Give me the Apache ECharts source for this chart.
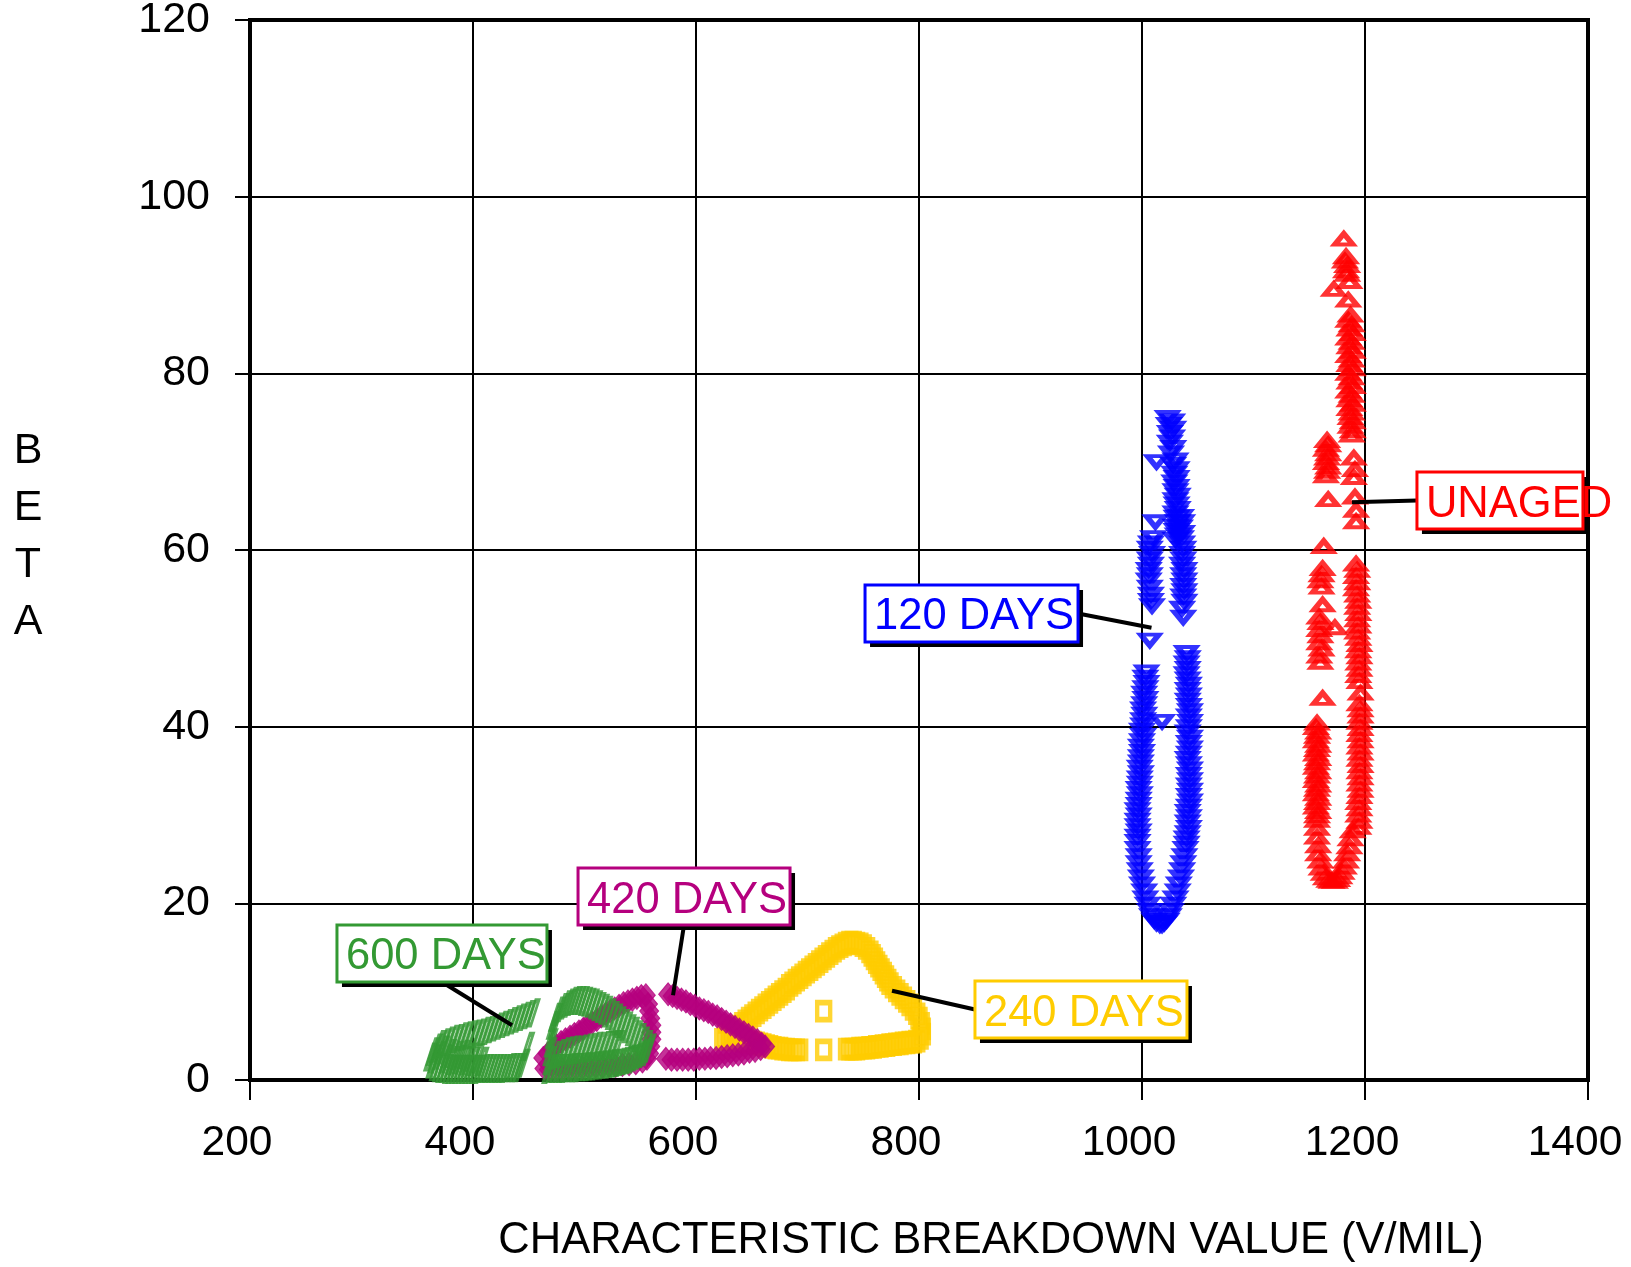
<!DOCTYPE html>
<html>
<head>
<meta charset="utf-8">
<script src="https://cdn.jsdelivr.net/npm/echarts@6/dist/echarts.min.js"></script>
<style>
  html, body { margin: 0; padding: 0; background: #fff; }
  #chart { width: 1631px; height: 1267px; }
</style>
</head>
<body>
<div id="chart"></div>
<script>
// Axis ticks
const xTicks = [200, 400, 600, 800, 1000, 1200, 1400];
const yTicks = [0, 20, 40, 60, 80, 100, 120];

// Weibull parameter sets: [characteristic breakdown value (V/mil), beta]
const unaged = [
  [1181, 95.2], [1183, 93.2], [1182, 92.7], [1184, 92.2], [1183, 91.6], [1184, 91.2], [1186, 90.4], [1172, 89.5],
  [1185, 88.3], [1187, 86.6],
  [1185, 86.0], [1188, 85.5], [1186, 85.0], [1189, 84.5], [1185, 84.0], [1188, 83.5], [1186, 83.0], [1189, 82.5],
  [1185, 82.0], [1188, 81.5], [1186, 81.0], [1189, 80.5], [1185, 80.0], [1188, 79.5], [1186, 79.0], [1189, 78.5],
  [1185, 78.0], [1188, 77.5], [1186, 77.0], [1189, 76.5], [1186, 76.0], [1188, 75.5], [1187, 75.0], [1189, 74.5],
  [1187, 74.0], [1189, 73.5], [1188, 73.0],
  [1166, 72.4], [1167, 71.9], [1165, 71.4], [1167, 70.9], [1166, 70.4], [1165, 69.9], [1167, 69.4], [1166, 68.9], [1165, 68.4],
  [1190, 70.4], [1191, 69.1], [1190, 68.2], [1191, 66.0], [1192, 64.5], [1192, 63.2], [1167, 65.7],
  [1163, 60.4], [1162, 57.9], [1161, 57.2], [1160, 56.5], [1161, 55.8], [1162, 53.8], [1159, 52.4], [1160, 51.8],
  [1159, 51.0], [1160, 50.3], [1159, 49.5], [1161, 48.8], [1159, 48.0], [1160, 47.3], [1162, 43.2],
  [1157, 40.4], [1156, 39.9], [1158, 39.4], [1157, 38.9], [1156, 38.4], [1158, 37.9], [1157, 37.4], [1156, 36.9],
  [1158, 36.4], [1157, 35.9], [1156, 35.4], [1158, 34.9], [1157, 34.4], [1156, 33.9], [1158, 33.4], [1157, 32.9],
  [1156, 32.4], [1158, 31.9], [1157, 31.4], [1156, 30.9], [1158, 30.4], [1157, 29.9], [1157, 29.4],
  [1157, 28.5], [1157, 27.5], [1158, 26.5], [1158, 25.6], [1160, 24.8], [1161, 24.0], [1163, 23.4], [1165, 22.9],
  [1168, 22.6], [1170, 22.5], [1173, 22.5], [1175, 22.7], [1177, 23.0], [1179, 23.5], [1181, 24.1], [1183, 24.8],
  [1184, 25.6], [1186, 26.4], [1187, 27.3], [1189, 28.2],
  [1192, 58.4], [1193, 57.7], [1192, 57.0], [1193, 56.3], [1192, 55.6], [1193, 54.9], [1194, 54.2], [1193, 53.5],
  [1194, 52.8], [1193, 52.1], [1194, 51.4], [1193, 50.7], [1194, 50.0], [1195, 49.3], [1194, 48.6], [1195, 47.9],
  [1194, 47.2], [1195, 46.5], [1194, 45.8], [1195, 45.1], [1196, 43.8], [1195, 42.6], [1196, 41.9], [1196, 41.2],
  [1195, 40.5], [1196, 39.8], [1195, 39.1], [1196, 38.4], [1195, 37.7], [1196, 37.0], [1195, 36.3], [1196, 35.6],
  [1195, 34.9], [1196, 34.2], [1195, 33.5], [1196, 32.8], [1195, 32.1], [1194, 31.4], [1195, 30.7], [1194, 30.0],
  [1195, 29.3], [1194, 28.6],
  [1173, 51.2]
];

const days120 = [
  [1023, 75.0], [1027, 74.6], [1024, 74.2], [1028, 73.8], [1025, 73.3], [1027, 72.8], [1025, 72.2], [1028, 71.6],
  [1026, 71.0], [1013, 70.0],
  [1030, 70.2], [1028, 69.7], [1031, 69.2], [1029, 68.7], [1031, 68.2], [1029, 67.7], [1031, 67.2], [1030, 66.7],
  [1032, 66.2], [1030, 65.7], [1031, 65.2], [1032, 64.7], [1030, 64.2], [1031, 63.7], [1032, 63.2], [1030, 62.7],
  [1031, 62.2], [1032, 61.7], [1030, 61.2],
  [1012, 63.2], [1010, 61.4], [1008, 60.8], [1007, 60.2], [1009, 59.6], [1007, 59.0], [1008, 58.4], [1006, 57.8],
  [1007, 57.2], [1006, 56.6], [1007, 55.8], [1008, 55.0], [1008, 54.3], [1009, 53.7],
  [1035, 63.8], [1036, 63.2], [1034, 62.6], [1036, 62.0], [1035, 61.4], [1036, 60.8], [1037, 60.2], [1036, 59.6],
  [1037, 59.0], [1036, 58.4], [1038, 57.8], [1037, 57.2], [1038, 56.6], [1037, 56.0], [1038, 55.4], [1037, 54.8],
  [1038, 54.2], [1036, 53.4], [1037, 52.4],
  [1007, 49.8],
  [1004, 46.2], [1003, 45.6], [1004, 45.0], [1003, 44.4], [1002, 43.8], [1003, 43.2], [1002, 42.6], [1001, 42.0],
  [1002, 41.4], [1001, 40.8], [1001, 40.2], [1000, 39.6], [1001, 39.0], [1000, 38.4], [999, 37.8], [1000, 37.2],
  [999, 36.6], [999, 36.0], [998, 35.4], [999, 34.8], [998, 34.2], [998, 33.6], [997, 33.0], [998, 32.4],
  [997, 31.8], [997, 31.2], [996, 30.6], [997, 30.0], [996, 29.4], [996, 28.8], [997, 28.2], [996, 27.6], [996, 27.0],
  [996, 26.2], [997, 25.4], [997, 24.6], [998, 23.8], [999, 23.0], [1000, 22.2], [1002, 21.4], [1003, 20.6],
  [1005, 19.9], [1007, 19.2], [1009, 18.6], [1011, 18.1], [1013, 17.8], [1016, 17.6], [1018, 17.6], [1020, 17.8],
  [1022, 18.1], [1024, 18.6], [1026, 19.2], [1028, 19.9], [1030, 20.6], [1032, 21.4], [1033, 22.2], [1035, 23.0],
  [1036, 23.8], [1037, 24.6], [1038, 25.4], [1039, 26.2],
  [1040, 48.4], [1041, 47.8], [1040, 47.2], [1041, 46.6], [1040, 46.0], [1041, 45.4], [1042, 44.8], [1041, 44.2],
  [1042, 43.6], [1041, 43.0], [1042, 42.4], [1043, 41.8], [1042, 41.2], [1043, 40.6], [1042, 40.0], [1041, 39.4],
  [1043, 38.8], [1042, 38.2], [1043, 37.6], [1042, 37.0], [1041, 36.4], [1042, 35.8], [1043, 35.2], [1042, 34.6],
  [1043, 34.0], [1042, 33.4], [1043, 32.8], [1042, 32.2], [1043, 31.6], [1042, 31.0], [1041, 30.4], [1042, 29.8],
  [1041, 29.2], [1042, 28.6], [1041, 28.0], [1040, 27.4], [1040, 26.8],
  [1018, 40.6]
];

const days240 = [
  [624, 4.6], [627, 4.9], [630, 5.2], [633, 5.5], [636, 5.8], [639, 6.1], [642, 6.4], [645, 6.7], [648, 7.0],
  [651, 7.3], [654, 7.6], [657, 7.9], [660, 8.2], [663, 8.5], [666, 8.8], [669, 9.1], [672, 9.4], [675, 9.7],
  [678, 10.0], [681, 10.3], [684, 10.7], [687, 11.0], [690, 11.3], [693, 11.6], [696, 11.9], [699, 12.2],
  [702, 12.5], [705, 12.8], [708, 13.1], [711, 13.4], [714, 13.7], [717, 14.0], [720, 14.3], [723, 14.6],
  [726, 14.9], [729, 15.1], [732, 15.3], [735, 15.5],
  [738, 15.6], [741, 15.6], [744, 15.5], [747, 15.4], [750, 15.2], [753, 14.9], [756, 14.5], [758, 14.1],
  [760, 13.7], [762, 13.3], [764, 12.9], [766, 12.5], [768, 12.1], [770, 11.7], [772, 11.3], [774, 10.9],
  [777, 10.5], [780, 10.1], [783, 9.7], [786, 9.3], [789, 8.9], [792, 8.5], [795, 8.0], [798, 7.5], [800, 7.0],
  [802, 6.4], [803, 5.8], [803, 5.2], [801, 4.7], [798, 4.4],
  [795, 4.3], [792, 4.3], [789, 4.2], [786, 4.2], [783, 4.1], [780, 4.1], [777, 4.0], [774, 4.0], [771, 3.9],
  [768, 3.9], [765, 3.8], [762, 3.8], [759, 3.7], [756, 3.7], [753, 3.6], [750, 3.6], [747, 3.6], [744, 3.5],
  [741, 3.5], [738, 3.5], [735, 3.5],
  [714.5, 3.4],
  [693, 3.4], [690, 3.4], [687, 3.4], [684, 3.4], [681, 3.5], [678, 3.5], [675, 3.6], [672, 3.6], [669, 3.7],
  [666, 3.8], [663, 3.9], [660, 4.0], [657, 4.1], [654, 4.2], [651, 4.3], [648, 4.3], [645, 4.4], [642, 4.4],
  [639, 4.5], [636, 4.5], [633, 4.5], [630, 4.6],
  [714.5, 7.8]
];

const days420 = [
  [463, 2.5], [467, 3.0], [471, 3.5], [475, 3.9], [479, 4.3], [483, 4.6], [487, 4.9], [491, 5.2], [495, 5.5],
  [499, 5.8], [503, 6.2], [507, 6.5], [511, 6.8], [515, 7.2], [519, 7.5], [523, 7.8], [527, 8.1], [531, 8.4],
  [535, 8.7], [539, 8.9], [543, 9.1], [547, 9.3], [551, 9.5], [555, 9.6],
  [464, 1.3], [468, 1.2], [474, 1.2], [480, 1.2], [486, 1.3], [492, 1.3], [498, 1.4], [504, 1.4], [510, 1.5],
  [516, 1.5], [522, 1.6], [528, 1.6], [534, 1.7], [540, 1.8], [546, 1.9], [552, 2.1], [556, 2.4],
  [557, 8.6], [558, 7.8], [559, 7.0], [560, 6.2], [560, 5.4], [560, 4.6], [559, 3.8], [558, 3.0],
  [575, 9.7], [579, 9.5], [583, 9.3], [587, 9.1], [591, 8.9], [595, 8.6], [599, 8.4], [603, 8.1], [607, 7.9],
  [611, 7.7], [615, 7.4], [619, 7.2], [623, 6.9], [627, 6.6], [631, 6.3], [635, 6.0], [639, 5.7], [643, 5.4],
  [647, 5.1], [651, 4.8], [655, 4.5], [659, 4.1], [662, 3.8],
  [573, 2.4], [578, 2.3], [583, 2.3], [588, 2.3], [593, 2.3], [598, 2.3], [603, 2.4], [608, 2.4], [613, 2.5],
  [618, 2.5], [623, 2.6], [628, 2.7], [633, 2.8], [638, 2.9], [643, 3.0], [648, 3.2], [653, 3.3], [658, 3.5]
];

const days600 = [
  [364, 1.8], [367, 1.5], [370, 1.4], [373, 1.3], [376, 1.3], [379, 1.2], [382, 1.2], [385, 1.2], [388, 1.2],
  [391, 1.2], [394, 1.2], [397, 1.2], [400, 1.2], [403, 1.2], [406, 1.2], [409, 1.3], [412, 1.3], [415, 1.3],
  [418, 1.3], [421, 1.3], [424, 1.3], [427, 1.3], [430, 1.3], [433, 1.4], [436, 1.4], [439, 1.4], [442, 1.4],
  [362, 2.6], [364, 3.2], [367, 3.6], [366, 2.4], [370, 2.8], [373, 3.4], [376, 2.4], [379, 3.0], [382, 2.2],
  [385, 2.8], [388, 2.3], [391, 2.9], [394, 2.2], [397, 2.6], [400, 2.1], [404, 2.5], [408, 2.1],
  [370, 4.0], [374, 4.2], [378, 4.4], [382, 4.6], [386, 4.7], [390, 4.9], [394, 5.0], [398, 5.1], [402, 5.2],
  [406, 5.3], [410, 5.5], [414, 5.6], [418, 5.8], [422, 6.0], [426, 6.2], [430, 6.4], [434, 6.6], [438, 6.8],
  [442, 7.0], [446, 7.2], [450, 7.4], [454, 7.6],
  [449, 3.8], [445, 1.9],
  [468, 1.2], [469, 2.2], [469, 3.2], [470, 4.2], [471, 5.2], [472, 6.2], [474, 7.1],
  [477, 7.8], [480, 8.2], [483, 8.5], [486, 8.7], [489, 8.9], [492, 9.0], [495, 9.0], [498, 9.0], [501, 8.9],
  [504, 8.8], [507, 8.7], [510, 8.5], [513, 8.3], [516, 8.1], [519, 7.9], [522, 7.6], [525, 7.3], [528, 7.0],
  [531, 6.7], [534, 6.4], [537, 6.1], [540, 5.8], [543, 5.5], [546, 5.1], [549, 4.8], [552, 4.4], [555, 4.0], [558, 3.6],
  [472, 1.3], [475, 1.3], [478, 1.3], [481, 1.3], [484, 1.3], [487, 1.4], [490, 1.4], [493, 1.4], [496, 1.4],
  [499, 1.5], [502, 1.5], [505, 1.5], [508, 1.6], [511, 1.6], [514, 1.7], [517, 1.7], [520, 1.8], [523, 1.8],
  [526, 1.9], [529, 1.9], [532, 2.0], [535, 2.1], [538, 2.2], [541, 2.3], [544, 2.4], [547, 2.6], [550, 2.8],
  [553, 3.0], [556, 3.2],
  [474, 2.8], [478, 3.0], [482, 3.2], [486, 3.3], [490, 3.4], [494, 3.4], [498, 3.5], [502, 3.6], [506, 3.7],
  [510, 3.8], [514, 3.8], [518, 3.9], [522, 3.9], [526, 4.0], [530, 4.0]
];

// Callout boxes: top-left corner and the marker each leader points at, in data units
const callouts = [
  { text: 'UNAGED',   color: '#ff0000', box: [1246.6, 68.83], target: [1188.3, 65.4], w: 166, side: 'left' },
  { text: '120 DAYS', color: '#0000ff', box: [751.6, 56.04],  target: [1008.5, 51.2], w: 213, side: 'right' },
  { text: '420 DAYS', color: '#b5007e', box: [494.2, 24.0],   target: [579.4, 9.6],   w: 212, side: 'bottom' },
  { text: '600 DAYS', color: '#339933', box: [278.0, 17.55],  target: [435.0, 6.2],   w: 210, side: 'bottom' },
  { text: '240 DAYS', color: '#ffcc00', box: [850.2, 11.2],   target: [775.8, 10.1],  w: 212, side: 'left' }
];

const FONT = '"Liberation Sans", Arial, Helvetica, sans-serif';

const chart = echarts.init(document.getElementById('chart'), null, { renderer: 'canvas' });

function hollow(color, width) {
  return { color: 'rgba(0,0,0,0)', borderColor: color, borderWidth: width };
}

chart.setOption({
  animation: false,
  backgroundColor: '#fff',
  grid: {
    left: 250, top: 20, width: 1338, height: 1060,
    outerBoundsMode: 'none', containLabel: false,
    show: true, borderColor: '#000', borderWidth: 4, backgroundColor: 'transparent'
  },
  xAxis: {
    type: 'value', min: xTicks[0], max: xTicks[xTicks.length - 1], interval: 200,
    axisLine: { show: true, onZero: false, lineStyle: { color: '#000', width: 4 } },
    axisTick: { show: true, length: 20, lineStyle: { color: '#000', width: 2 } },
    axisLabel: { color: '#000', fontSize: 42.5, fontFamily: FONT, margin: 42, padding: [0, 26, 0, 0],
                 formatter: function (v) { return String(v); } },
    splitLine: { show: true, lineStyle: { color: '#000', width: 2 } }
  },
  yAxis: {
    type: 'value', min: yTicks[0], max: yTicks[yTicks.length - 1], interval: 20,
    axisLine: { show: true, onZero: false, lineStyle: { color: '#000', width: 4 } },
    axisTick: { show: true, length: 15, lineStyle: { color: '#000', width: 2 } },
    axisLabel: { color: '#000', fontSize: 43, fontFamily: FONT, margin: 40,
                 formatter: function (v) { return String(v); } },
    splitLine: { show: true, lineStyle: { color: '#000', width: 2 } }
  },
  series: [
    { type: 'scatter', name: 'UNAGED', data: unaged, symbol: 'triangle', symbolSize: [18, 11],
      itemStyle: hollow('#ff0000', 5), silent: true },
    { type: 'scatter', name: '120 DAYS', data: days120, symbol: 'triangle', symbolRotate: 180, symbolSize: [18, 11],
      itemStyle: hollow('#0000ff', 5), silent: true },
    { type: 'scatter', name: '240 DAYS', data: days240, symbol: 'rect', symbolSize: [13, 17],
      itemStyle: hollow('#ffcc00', 5), silent: true },
    { type: 'scatter', name: '420 DAYS', data: days420, symbol: 'diamond', symbolSize: [19, 23],
      itemStyle: { color: '#b5007e', borderColor: '#b5007e', borderWidth: 1 }, silent: true },
    { type: 'scatter', name: '600 DAYS', data: days600, symbol: 'path://M7,0 L10,0 L3,24 L0,24 Z', symbolSize: [11, 24],
      itemStyle: hollow('#339933', 3.5), silent: true }
  ]
});

// Axis titles and callouts
const graphics = [
  { type: 'text', x: 991, y: 1241, z: 50,
    style: { text: 'CHARACTERISTIC BREAKDOWN VALUE (V/MIL)', fill: '#000', fontSize: 43.5, fontFamily: FONT,
             align: 'center', verticalAlign: 'middle' } },
  { type: 'text', x: 28, y: 537, z: 50,
    style: { text: 'B\nE\nT\nA', fill: '#000', fontSize: 43, fontFamily: FONT, lineHeight: 57,
             align: 'center', verticalAlign: 'middle' } }
];

const BOX_H = 57;
callouts.forEach(function (c) {
  const b = chart.convertToPixel({ gridIndex: 0 }, c.box);
  const t = chart.convertToPixel({ gridIndex: 0 }, c.target);
  let ex, ey;
  if (c.side === 'left') { ex = b[0]; ey = b[1] + BOX_H / 2; }
  else if (c.side === 'right') { ex = b[0] + c.w; ey = b[1] + BOX_H / 2; }
  else { ex = b[0] + c.w / 2; ey = b[1] + BOX_H; }
  graphics.push({ type: 'line', z: 100, shape: { x1: t[0], y1: t[1], x2: ex, y2: ey },
                  style: { stroke: '#000', lineWidth: 4 } });
  graphics.push({ type: 'rect', z: 101, shape: { x: b[0] + 5, y: b[1] + 5, width: c.w, height: BOX_H },
                  style: { fill: '#000' } });
  graphics.push({ type: 'rect', z: 102, shape: { x: b[0], y: b[1], width: c.w, height: BOX_H },
                  style: { fill: '#fff', stroke: c.color, lineWidth: 3 } });
  graphics.push({ type: 'text', z: 103, x: b[0] + 9, y: b[1] + BOX_H / 2 + 4,
                  style: { text: c.text, fill: c.color, fontSize: 43.5, fontFamily: FONT,
                           align: 'left', verticalAlign: 'middle' } });
});

chart.setOption({ graphic: graphics });
</script>
</body>
</html>
